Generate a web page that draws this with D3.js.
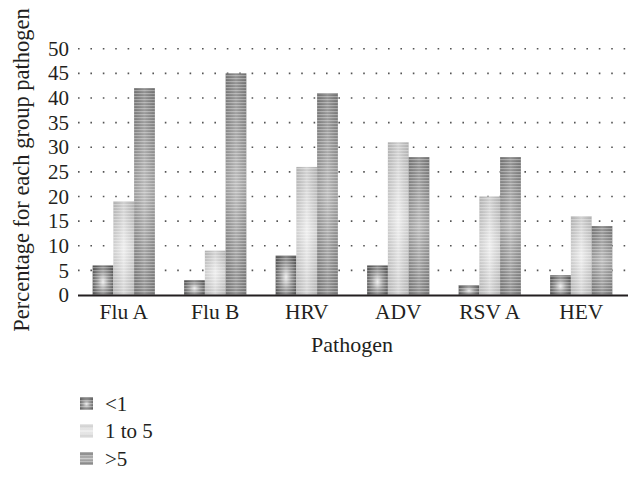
<!DOCTYPE html>
<html><head><meta charset="utf-8">
<script src="https://cdn.jsdelivr.net/npm/d3@7"></script>
<style>body{margin:0;background:#fff}svg{display:block}</style>
</head><body><svg id="c" width="642" height="478" font-family="'Liberation Serif', 'Times New Roman', Times, serif"></svg>
<script>
const categories = ["Flu A","Flu B","HRV","ADV","RSV A","HEV"];
const seriesNames = ["<1","1 to 5",">5"];
const under1 = [6,3,8,6,2,4];
const oneTo5 = [19,9,26,31,20,16];
const over5 = [42,45,41,28,28,14];
const yTicks = [0,5,10,15,20,25,30,35,40,45,50];
const seriesValues = [under1, oneTo5, over5];

const FONT = "'Liberation Serif', 'Times New Roman', Times, serif";
const svg = d3.select("#c");
const defs = svg.append("defs");
const r0 = defs.append("radialGradient").attr("id","g0").attr("cx","0.5").attr("cy","0.55").attr("r","0.6");
r0.append("stop").attr("offset","0%").attr("stop-color","#e6e6e6");
r0.append("stop").attr("offset","45%").attr("stop-color","#9a9a9a");
r0.append("stop").attr("offset","100%").attr("stop-color","#5e5e5e");
const g1 = defs.append("linearGradient").attr("id","g1").attr("x1",0).attr("y1",0).attr("x2",0).attr("y2",1);
[["0%","#c6c6c6"],["50%","#ececec"],["100%","#cccccc"]].forEach(s=>g1.append("stop").attr("offset",s[0]).attr("stop-color",s[1]));
const g2 = defs.append("linearGradient").attr("id","g2").attr("x1",0).attr("y1",0).attr("x2",0).attr("y2",1);
[["0%","#7d7d7d"],["50%","#b2b2b2"],["100%","#808080"]].forEach(s=>g2.append("stop").attr("offset",s[0]).attr("stop-color",s[1]));
const hg = defs.append("linearGradient").attr("id","hg").attr("x1",0).attr("y1",0).attr("x2",1).attr("y2",0);
[["0%","#000",0.12],["50%","#fff",0.15],["100%","#000",0.12]].forEach(s=>hg.append("stop").attr("offset",s[0]).attr("stop-color",s[1]).attr("stop-opacity",s[2]));
const pat = defs.append("pattern").attr("id","stripes").attr("patternUnits","userSpaceOnUse").attr("width",4).attr("height",3);
pat.append("rect").attr("width",4).attr("height",1.2).attr("fill","#fff").attr("opacity",0.35);

const x0 = d3.scaleBand().domain(categories).range([78,627]).paddingInner(0.32).paddingOuter(0.16);
const x1 = d3.scaleBand().domain(seriesNames).range([0,x0.bandwidth()]);
const y = d3.scaleLinear().domain([0,50]).range([295,48.7]);

svg.append("g").selectAll("line").data(yTicks.filter(d=>d>0)).join("line")
  .attr("x1",78).attr("x2",630).attr("y1",d=>y(d)).attr("y2",d=>y(d))
  .attr("stroke","#555").attr("stroke-width",1.6).attr("stroke-dasharray","1.6,10.8");

const txt = (sel, fs=21) => sel.attr("font-family",FONT).attr("fill","#231f20").attr("font-size",fs);

svg.append("g").selectAll("text").data(yTicks).join("text")
  .attr("x",69).attr("y",d=>y(d)).attr("dy","0.34em").attr("text-anchor","end")
  .call(txt).text(d=>d);

const groups = svg.append("g").selectAll("g").data(categories).join("g")
  .attr("transform",d=>`translate(${x0(d)},0)`);
seriesNames.forEach((s,si)=>{
  groups.each(function(c,ci){
    const v = seriesValues[si][ci];
    const g = d3.select(this);
    const bx = x1(s), bw = x1.bandwidth(), by = y(v), bh = y(0)-y(v);
    g.append("rect").attr("x",bx).attr("y",by).attr("width",bw).attr("height",bh).attr("fill",`url(#g${si})`);
    g.append("rect").attr("x",bx).attr("y",by).attr("width",bw).attr("height",bh).attr("fill","url(#hg)");
    g.append("rect").attr("x",bx).attr("y",by).attr("width",bw).attr("height",bh).attr("fill","url(#stripes)");
  });
});

svg.append("line").attr("x1",78).attr("x2",628).attr("y1",295.5).attr("y2",295.5).attr("stroke","#231f20").attr("stroke-width",2);
svg.append("g").selectAll("text").data(categories).join("text")
  .attr("x",d=>x0(d)+x0.bandwidth()/2).attr("y",319).attr("text-anchor","middle")
  .call(txt, 21.5).text(d=>d);

svg.append("text").attr("x",352).attr("y",352).attr("text-anchor","middle").call(txt, 22).text("Pathogen");
svg.append("text").attr("transform","translate(29,170) rotate(-90)").attr("text-anchor","middle").call(txt, 22.5).text("Percentage for each group pathogen");

const leg = svg.append("g").selectAll("g").data(seriesNames).join("g")
  .attr("transform",(d,i)=>`translate(80,${397+i*27.5})`);
leg.each(function(d,i){
  const g = d3.select(this);
  g.append("rect").attr("width",13).attr("height",13).attr("fill",`url(#g${i})`);
  g.append("rect").attr("width",13).attr("height",13).attr("fill","url(#stripes)");
  g.append("text").attr("x",25).attr("y",6.5).attr("dy","0.34em").call(txt, 21).text(d);
});
</script></body></html>
